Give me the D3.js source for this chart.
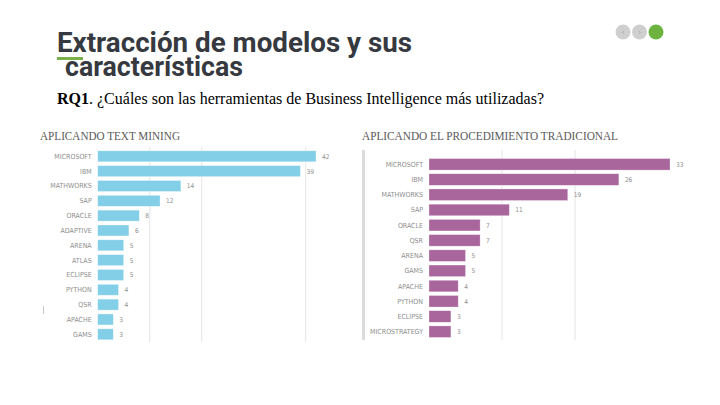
<!DOCTYPE html>
<html><head><meta charset="utf-8">
<script src="https://cdn.jsdelivr.net/npm/d3@7"></script>
<style>html,body{margin:0;padding:0;background:#fff;}svg{display:block;}</style>
</head><body>
<svg id="c" width="720" height="405"></svg>
<script>
// Data
const leftCategories = ["MICROSOFT","IBM","MATHWORKS","SAP","ORACLE","ADAPTIVE","ARENA","ATLAS","ECLIPSE","PYTHON","QSR","APACHE","GAMS"];
const leftValues = [42,39,16,12,8,6,5,5,5,4,4,3,3];
const leftLabels = ["42","39","14","12","8","6","5","5","5","4","4","3","3"];
const leftGrid = [10,20,40];

const rightCategories = ["MICROSOFT","IBM","MATHWORKS","SAP","ORACLE","QSR","ARENA","GAMS","APACHE","PYTHON","ECLIPSE","MICROSTRATEGY"];
const rightValues = [33,26,19,11,7,7,5,5,4,4,3,3];
const rightGrid = [10,20];

const svg = d3.select("#c");

// Header
svg.append("text").attr("x",57).attr("y",51.5)
  .attr("font-family","Roboto, 'Liberation Sans', sans-serif").attr("font-weight",700)
  .attr("font-size",27).attr("fill","#363a40")
  .attr("textLength",355).attr("lengthAdjust","spacingAndGlyphs")
  .text("Extracción de modelos y sus");
svg.append("text").attr("x",65).attr("y",75.5)
  .attr("font-family","Roboto, 'Liberation Sans', sans-serif").attr("font-weight",700)
  .attr("font-size",27).attr("fill","#363a40")
  .attr("textLength",178).attr("lengthAdjust","spacingAndGlyphs")
  .text("características");
svg.append("rect").attr("x",57).attr("y",57).attr("width",26).attr("height",3).attr("fill","#7ab04a");

const rq = svg.append("text").attr("x",57).attr("y",103.5)
  .attr("font-family","'Liberation Serif', 'Times New Roman', serif").attr("font-size",16).attr("fill","#000");
rq.append("tspan").attr("font-weight","bold").text("RQ1");
rq.append("tspan").text(". ¿Cuáles son las herramientas de Business Intelligence más utilizadas?");

// Nav circles
const circ = [{x:623,c:"#cfcfcf",t:"‹"},{x:639.5,c:"#cfcfcf",t:"›"},{x:656,c:"#6db33f",t:""}];
svg.selectAll("circle.nav").data(circ).enter().append("circle")
  .attr("cx",d=>d.x).attr("cy",32).attr("r",7.5).attr("fill",d=>d.c);
svg.selectAll("text.nav").data(circ).enter().append("text")
  .attr("x",d=>d.x).attr("y",35).attr("text-anchor","middle")
  .attr("font-size",8).attr("fill","#a8a8a8").attr("font-family","DejaVu Sans").text(d=>d.t);

function panel(opts){
  const {cats, vals, labels, grid, x0, x1, dmax, y0, y1, pad, color, title, tx, ty, tw, gy0, gy1} = opts;
  const g = svg.append("g");
  const x = d3.scaleLinear().domain([0,dmax]).range([x0,x1]);
  const y = d3.scaleBand().domain(cats).range([y0,y1]).paddingInner(pad).paddingOuter(pad/2);
  g.append("text").attr("x",tx).attr("y",ty)
    .attr("font-family","'Liberation Serif', 'DejaVu Serif', serif").attr("font-size",12.5)
    .attr("fill","#5a5a5a").attr("textLength",tw).attr("lengthAdjust","spacingAndGlyphs").text(title);
  g.selectAll("line.grid").data(grid).enter().append("line")
    .attr("x1",d=>x(d)).attr("x2",d=>x(d)).attr("y1",gy0).attr("y2",gy1)
    .attr("stroke","#e9e9e9").attr("stroke-width",1.2);
  g.selectAll("rect.bar").data(vals).enter().append("rect")
    .attr("x",x(0)).attr("y",(d,i)=>y(cats[i]))
    .attr("width",d=>x(d)-x(0)).attr("height",y.bandwidth())
    .attr("fill",color).attr("stroke","#ffffff").attr("stroke-opacity",0.5).attr("stroke-width",0.6);
  g.selectAll("text.cat").data(cats).enter().append("text")
    .attr("x",x(0)-6).attr("y",d=>y(d)+y.bandwidth()/2+2.5).attr("text-anchor","end")
    .attr("font-family","'Liberation Sans Narrow', 'DejaVu Sans Condensed', sans-serif")
    .attr("font-size",7).attr("fill","#8e8e8e").text(d=>d);
  g.selectAll("text.val").data(vals).enter().append("text")
    .attr("x",d=>x(d)+6).attr("y",(d,i)=>y(cats[i])+y.bandwidth()/2+2.5)
    .attr("font-family","'Liberation Sans Narrow', 'DejaVu Sans Condensed', sans-serif")
    .attr("font-size",6.5).attr("fill","#8e8e8e").text((d,i)=>labels?labels[i]:d);
  return {x,y};
}

panel({cats:leftCategories, vals:leftValues, labels:leftLabels, grid:leftGrid,
  x0:97.7, x1:316, dmax:42, y0:148.9, y1:341.7, pad:0.26, color:"#84cfe8",
  title:"APLICANDO TEXT MINING", tx:40, ty:140, tw:140, gy0:147, gy1:342});

panel({cats:rightCategories, vals:rightValues, grid:rightGrid,
  x0:429, x1:670, dmax:33, y0:156.7, y1:339.3, pad:0.24, color:"#a8669c",
  title:"APLICANDO EL PROCEDIMIENTO TRADICIONAL", tx:362, ty:140, tw:256, gy0:150, gy1:340});

// decorative axis strip on right panel and small mark on left
svg.append("rect").attr("x",362).attr("y",150).attr("width",3).attr("height",190).attr("fill","#dcdcdc");
svg.append("line").attr("x1",43.5).attr("x2",43.5).attr("y1",306).attr("y2",314).attr("stroke","#bbb").attr("stroke-width",0.8);
</script>
</body></html>
